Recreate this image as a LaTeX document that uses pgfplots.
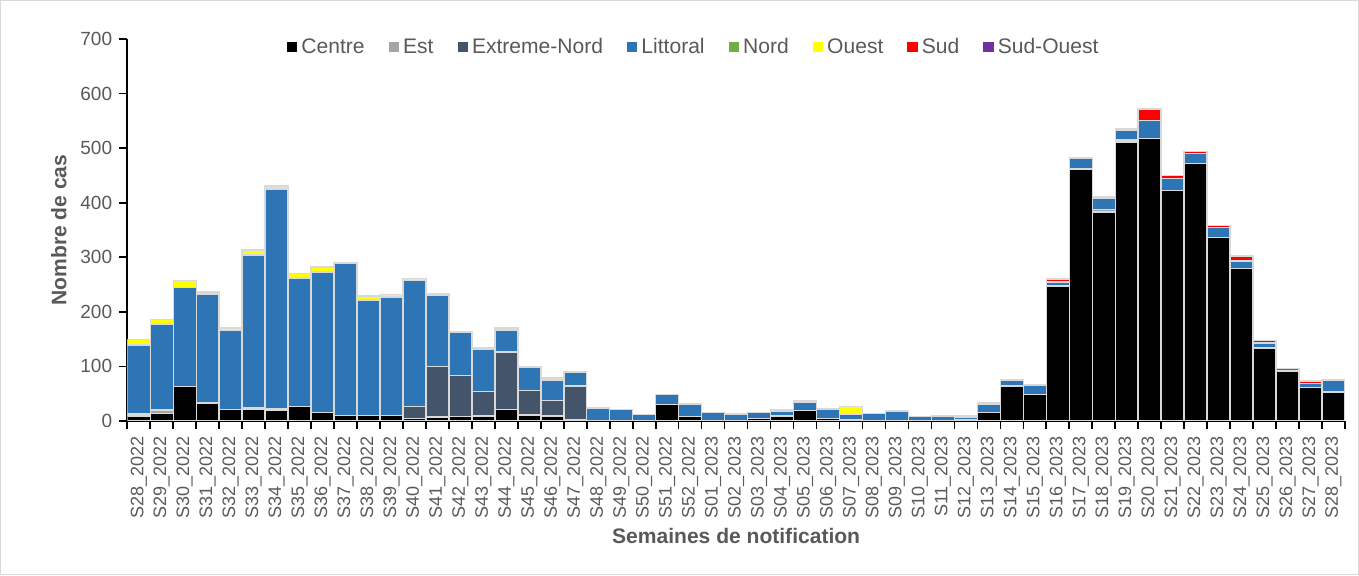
\documentclass[border=0pt]{standalone}
\usepackage{fontspec}
\setmainfont{Liberation Sans}
\usepackage{pgfplots}
\usepackage{pgfplotstable}
\pgfplotsset{compat=1.18}
\definecolor{txt}{RGB}{89,89,89}
\definecolor{cEst}{RGB}{165,165,165}
\definecolor{cExt}{RGB}{68,84,106}
\definecolor{cLit}{RGB}{46,117,182}
\definecolor{cNord}{RGB}{112,173,71}
\definecolor{cOuest}{RGB}{255,255,0}
\definecolor{cSud}{RGB}{255,0,0}
\definecolor{cSO}{RGB}{112,48,160}
\definecolor{edge}{RGB}{217,217,217}

% x = week index, columns = regions
\pgfplotstableread{
x C E X L N O S W
0 9 4 0 126 0 10 0 0
1 14 6 0 158 0 8 0 0
2 63 0 0 182 0 12 0 0
3 32 1 0 200 0 3 0 0
4 21 0 0 145 0 3 0 2
5 22 2 0 280 0 9 0 0
6 20 2 0 403 0 6 0 0
7 26 0 0 236 0 8 0 0
8 16 0 0 257 0 9 0 0
9 10 0 0 279 0 1 0 0
10 10 0 0 212 0 7 0 0
11 10 0 0 217 0 5 0 0
12 5 0 21 231 0 4 0 0
13 7 0 93 130 0 3 0 0
14 8 0 75 79 0 1 0 0
15 8 1 45 78 0 3 0 0
16 21 0 105 41 0 3 0 0
17 11 0 45 43 0 1 0 0
18 8 1 28 38 0 4 0 0
19 2 0 62 25 0 1 0 0
20 1 0 0 22 0 2 0 0
21 1 0 0 20 0 0 0 0
22 0 0 0 12 0 0 0 0
23 30 0 0 18 0 0 0 0
24 8 0 0 23 0 0 0 0
25 1 0 0 15 0 0 0 0
26 0 0 0 13 0 0 0 0
27 4 0 0 11 0 0 0 0
28 9 0 0 9 0 2 0 0
29 19 0 0 16 0 2 0 0
30 5 0 0 17 0 0 0 0
31 2 0 0 10 0 14 0 0
32 0 0 0 14 0 0 0 0
33 0 0 0 18 0 0 0 0
34 0 0 0 8 0 0 0 0
35 0 0 0 9 0 0 0 0
36 2 1 0 3 0 3 0 0
37 16 0 0 15 0 3 0 0
38 64 1 0 9 0 2 0 0
39 48 0 0 18 0 1 0 0
40 246 1 0 8 0 1 4 0
41 461 2 0 18 0 1 0 0
42 383 5 0 21 0 2 0 0
43 511 4 0 18 0 2 0 0
44 518 0 0 33 0 0 21 0
45 422 0 0 22 0 0 6 0
46 472 0 0 18 0 0 4 0
47 336 0 0 19 0 0 3 0
48 279 0 0 14 0 0 9 0
49 134 0 0 9 0 0 4 0
50 91 1 0 4 0 0 0 0
51 61 0 0 8 0 0 4 0
52 52 1 0 22 0 0 0 0
}\cases

\begin{document}
\begin{tikzpicture}
\begin{axis}[
  name=ax, at={(0,0)}, anchor=south west,
  scale only axis, width=607.5pt, height=190.5pt,
  ybar stacked, bar width=11.46pt,
  xmin=-0.5, xmax=52.5, ymin=0, ymax=700,
  axis lines*=left,
  axis line style={black, line width=0.8pt},
  ytick={0,100,...,700},
  xtick={0,...,52},
  xticklabels={S28\_2022,S29\_2022,S30\_2022,S31\_2022,S32\_2022,S33\_2022,S34\_2022,S35\_2022,S36\_2022,S37\_2022,S38\_2022,S39\_2022,S40\_2022,S41\_2022,S42\_2022,S43\_2022,S44\_2022,S45\_2022,S46\_2022,S47\_2022,S48\_2022,S49\_2022,S50\_2022,S51\_2022,S52\_2022,S01\_2023,S02\_2023,S03\_2023,S04\_2023,S05\_2023,S06\_2023,S07\_2023,S08\_2023,S09\_2023,S10\_2023,S11\_2023,S12\_2023,S13\_2023,S14\_2023,S15\_2023,S16\_2023,S17\_2023,S18\_2023,S19\_2023,S20\_2023,S21\_2023,S22\_2023,S23\_2023,S24\_2023,S25\_2023,S26\_2023,S27\_2023,S28\_2023},
  minor xtick={-0.5,0.5,...,52.5},
  major x tick style={draw=none},
  tick align=outside,
  tick style={black, line width=0.8pt},
  major tick length=4pt, minor tick length=4pt,
  x tick label style={rotate=90, anchor=east, font=\fontsize{9}{10}\selectfont, text=txt},
  y tick label style={font=\fontsize{9.5}{11}\selectfont, text=txt},
  /pgf/number format/assume math mode=true,
  xlabel={\textbf{Semaines de notification}},
  ylabel={\textbf{Nombre de cas}},
  label style={font=\fontsize{10.5}{12}\selectfont, text=txt},
  xlabel style={yshift=2pt},
  legend columns=8,
  legend style={at={(0.466,0.979)}, anchor=center, draw=none, fill=none,
    font=\fontsize{10.5}{12}\selectfont, text=txt,
    nodes={text height=1.6ex, text depth=0.3ex},
    /tikz/every even column/.append style={column sep=10pt}},
  legend image code/.code={\path[#1, draw=none] (0pt,-2.6pt) rectangle (5.2pt,2.6pt);},
  every axis plot/.append style={draw=edge, line width=0.7pt},
]
\addplot[fill=black] table[x=x,y=C]{\cases};
\addplot[fill=cEst] table[x=x,y=E]{\cases};
\addplot[fill=cExt] table[x=x,y=X]{\cases};
\addplot[fill=cLit] table[x=x,y=L]{\cases};
\addplot[fill=cNord] table[x=x,y=N]{\cases};
\addplot[fill=cOuest] table[x=x,y=O]{\cases};
\addplot[fill=cSud] table[x=x,y=S]{\cases};
\addplot[fill=cSO] table[x=x,y=W]{\cases};
\legend{Centre,Est,Extreme-Nord,Littoral,Nord,Ouest,Sud,Sud-Ouest}
\end{axis}
\draw[edge, line width=0.6pt] ([xshift=-63.2pt,yshift=-76.7pt]ax.south west) rectangle ([xshift=6.7pt,yshift=19.2pt]ax.north east);
\end{tikzpicture}
\end{document}
